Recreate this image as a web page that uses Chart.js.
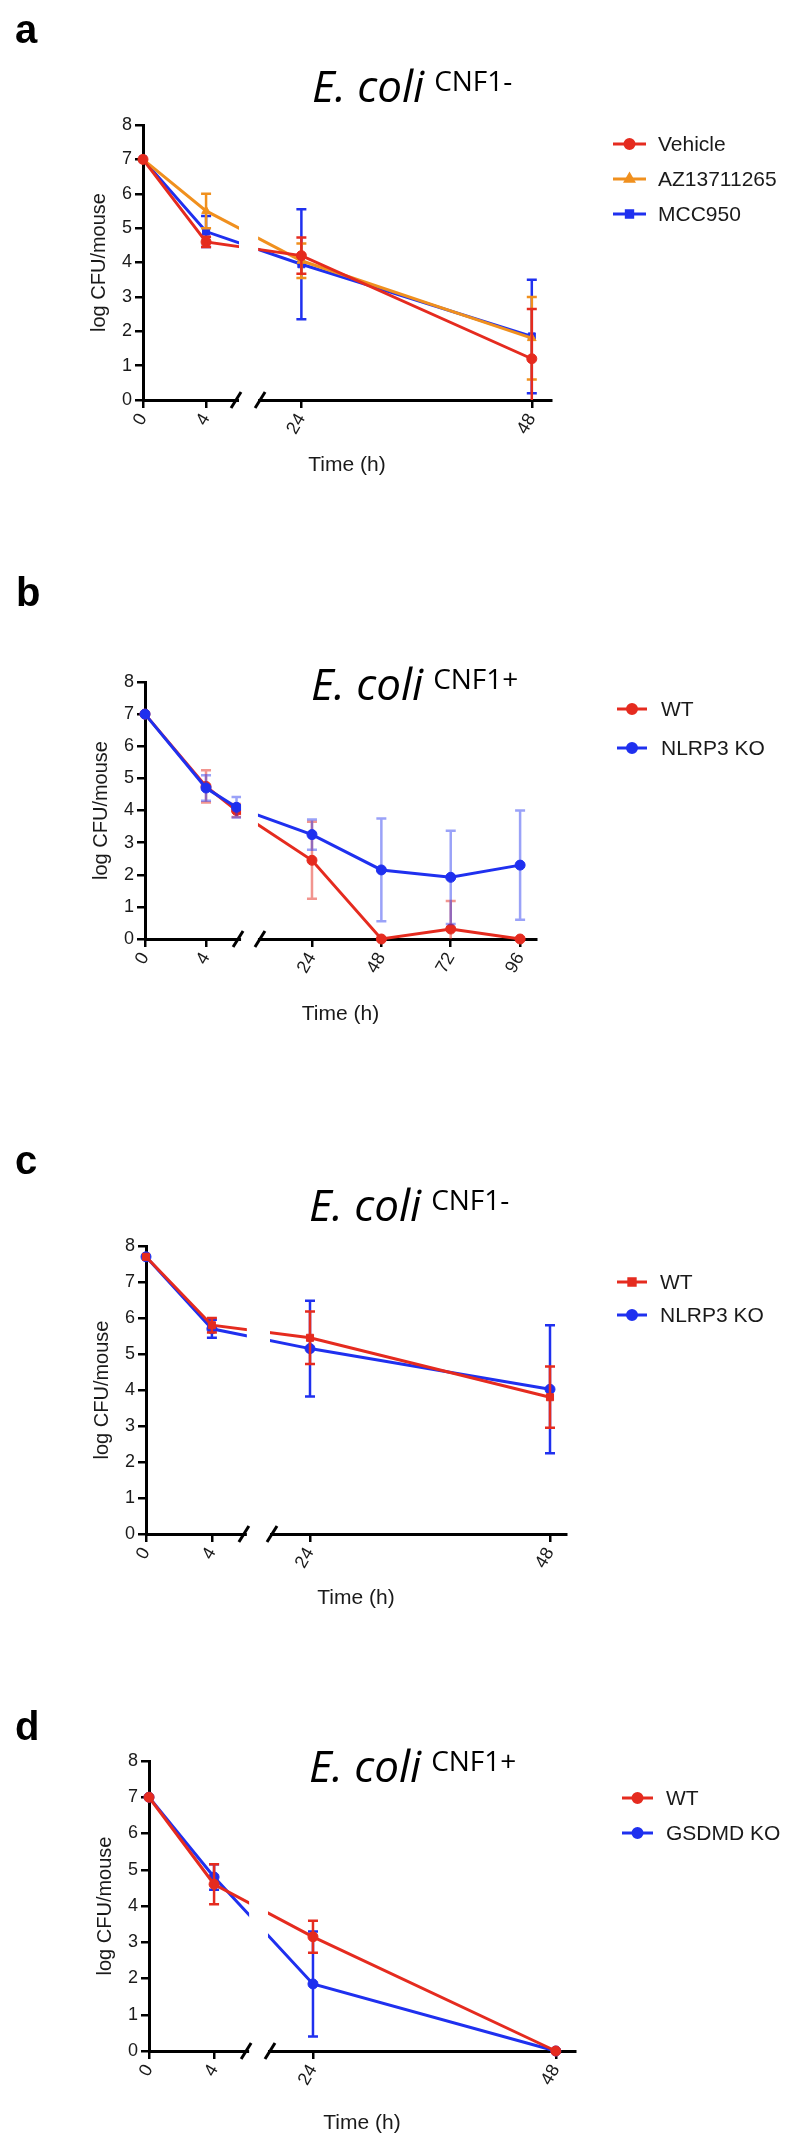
<!DOCTYPE html>
<html>
<head>
<meta charset="utf-8">
<script src="https://cdn.jsdelivr.net/npm/chart.js@4.4.1/dist/chart.umd.min.js"></script>
<style>
  body { margin: 0; background: #fff; }
  #page { position: relative; width: 800px; height: 2148px; overflow: hidden; background: #fff; }
  canvas { position: absolute; left: 0; }
  .letter { position: absolute; font: bold 40px "Liberation Sans", Arial, sans-serif; line-height: 40px; color: #000; }
  .ttl { position: absolute; font: italic 44px "Open Sans", sans-serif; line-height: 44px; color: #000; white-space: nowrap; }
  .ttl span { font-style: normal; font-size: 28px; position: relative; top: -11px; margin-left: 10px; }
</style>
</head>
<body>
<div id="page">
  <canvas id="cA" width="800" height="537" style="top:0px"></canvas>
  <canvas id="cB" width="800" height="537" style="top:537px"></canvas>
  <canvas id="cC" width="800" height="537" style="top:1074px"></canvas>
  <canvas id="cD" width="800" height="537" style="top:1611px"></canvas>

  <div class="letter" style="left:15px; top:9px">a</div>
  <div class="letter" style="left:16px; top:572px">b</div>
  <div class="letter" style="left:15px; top:1140px">c</div>
  <div class="letter" style="left:15px; top:1706px">d</div>

  <div class="ttl" style="left:312px; top:63px">E. coli<span>CNF1-</span></div>
  <div class="ttl" style="left:311px; top:661px">E. coli<span>CNF1+</span></div>
  <div class="ttl" style="left:309px; top:1182px">E. coli<span>CNF1-</span></div>
  <div class="ttl" style="left:309px; top:1743px">E. coli<span>CNF1+</span></div>
</div>
<script>
// ---- data (log CFU/mouse, mean and SD) ----
const timesA = [0, 4, 24, 48];
const vehicleA = [7.0, 4.6, 4.2, 1.2];
const vehicleErrA = [0, 0.15, 0.53, 1.45];
const azA = [7.0, 5.5, 4.05, 1.8];
const azErrA = [0, 0.5, 0.5, 1.2];
const mccA = [7.0, 4.9, 3.95, 1.85];
const mccErrA = [0, 0.45, 1.6, 1.65];

const timesB = [0, 4, 6, 24, 48, 72, 96];
const wtB = [7.0, 4.75, 4.0, 2.45, 0, 0.31, 0];
const wtErrB = [0, 0.5, 0.2, 1.2, 0, 0.87, 0];
const koB = [7.0, 4.7, 4.1, 3.25, 2.15, 1.92, 2.3];
const koErrB = [0, 0.4, 0.32, 0.47, 1.6, 1.45, 1.7];

const timesC = [0, 4, 24, 48];
const wtC = [7.7, 5.8, 5.45, 3.8];
const wtErrC = [0, 0.2, 0.73, 0.85];
const koC = [7.7, 5.7, 5.15, 4.02];
const koErrC = [0, 0.25, 1.33, 1.78];

const timesD = [0, 4, 24, 48];
const wtD = [7.0, 4.6, 3.15, 0];
const wtErrD = [0, 0.55, 0.44, 0];
const koD = [7.0, 4.8, 1.85, 0];
const koErrD = [0, 0.35, 1.45, 0];

const ticksA = [0, 4, 24, 48];
const ticksB = [0, 4, 24, 48, 72, 96];
const yTicks = [0, 1, 2, 3, 4, 5, 6, 7, 8];

const RED = '#e52b1f', ORANGE = '#f0901e', BLUE = '#1f30ef';
const FONT = '"Liberation Sans", Arial, sans-serif';

// x axis with a break: left segment and right segment share one scale
class BrokenScale extends Chart.LinearScale {
  toDecimal(v) {
    const b = this.options.brk;
    if (v <= b.leftEnd) return b.from * (v - this.min) / (b.leftEnd - this.min);
    return b.to + (1 - b.to) * (v - b.rightStart) / (this.max - b.rightStart);
  }
  getPixelForValue(value) {
    if (value === null || value === undefined) return NaN;
    return this.getPixelForDecimal(this.toDecimal(value));
  }
  getValueForPixel(pixel) {
    const b = this.options.brk;
    const d = this.getDecimalForPixel(pixel);
    if (d <= b.from) return this.min + d / b.from * (b.leftEnd - this.min);
    return b.rightStart + (d - b.to) / (1 - b.to) * (this.max - b.rightStart);
  }
}
BrokenScale.id = 'broken';
BrokenScale.defaults = {};
Chart.register(BrokenScale);

const errorBars = {
  id: 'errorBars',
  afterDatasetDraw(chart, args, opts) {
    const ds = chart.data.datasets[args.index];
    if (!ds.errors) return;
    const { ctx, chartArea } = chart;
    const ys = chart.scales.y;
    ctx.save();
    ctx.beginPath();
    ctx.rect(chartArea.left - 20, chartArea.top - 20, chartArea.width + 40, chartArea.height + 20);
    ctx.clip();
    ctx.strokeStyle = ds.barColor || ds.borderColor;
    ctx.lineWidth = opts.width;
    args.meta.data.forEach((pt, i) => {
      const e = ds.errors[i];
      if (!e) return;
      const v = ds.data[i].y;
      const hi = ys.getPixelForValue(v + e), lo = ys.getPixelForValue(v - e);
      ctx.beginPath();
      ctx.moveTo(pt.x, hi); ctx.lineTo(pt.x, lo);
      ctx.moveTo(pt.x - opts.cap, hi); ctx.lineTo(pt.x + opts.cap, hi);
      ctx.moveTo(pt.x - opts.cap, lo); ctx.lineTo(pt.x + opts.cap, lo);
      ctx.stroke();
    });
    ctx.restore();
  }
};

const axisBreak = {
  id: 'axisBreak',
  afterDatasetsDraw(chart) {
    const xs = chart.scales.x, b = xs.options.brk;
    const { ctx, chartArea } = chart;
    const x1 = xs.getPixelForDecimal(b.from), x2 = xs.getPixelForDecimal(b.to);
    ctx.save();
    ctx.fillStyle = '#fff';
    ctx.fillRect(x1 + 3, chartArea.top - 20, x2 - x1 - 5, chartArea.height + 22);
    ctx.strokeStyle = '#000';
    ctx.lineWidth = 3;
    [x1, x2].forEach(px => {
      ctx.beginPath();
      ctx.moveTo(px - 5, chartArea.bottom + 8);
      ctx.lineTo(px + 5, chartArea.bottom - 8);
      ctx.stroke();
    });
    ctx.restore();
  }
};

const sideLegend = {
  id: 'sideLegend',
  afterDraw(chart, args, opts) {
    const { ctx } = chart;
    chart.data.datasets.forEach((ds, i) => {
      const y = opts.y + i * opts.step;
      ctx.save();
      ctx.strokeStyle = ds.borderColor;
      ctx.fillStyle = ds.borderColor;
      ctx.lineWidth = 3;
      ctx.beginPath();
      ctx.moveTo(opts.x, y); ctx.lineTo(opts.x + opts.len, y);
      ctx.stroke();
      Chart.helpers.drawPoint(ctx, { pointStyle: ds.pointStyle, radius: 4.5, borderWidth: 1, rotation: 0 }, opts.x + opts.len / 2, y);
      ctx.fillStyle = '#1a1a1a';
      ctx.font = '21px ' + FONT;
      ctx.textBaseline = 'middle';
      ctx.fillText(ds.label, opts.textX, y + 1);
      ctx.restore();
    });
  }
};

function series(label, times, vals, errs, color, style, barColor, order) {
  return {
    label,
    data: times.map((t, i) => ({ x: t, y: vals[i] })),
    errors: errs,
    borderColor: color,
    backgroundColor: color,
    barColor: barColor || color,
    pointStyle: style,
    pointRadius: 5,
    pointBorderWidth: 1,
    borderWidth: 3,
    tension: 0,
    clip: false,
    order: order || 0
  };
}

const panels = [
  {
    canvas: 'cA', canvasTop: 0, canvasH: 537,
    area: { l: 143, r: 551, t: 125, b: 400 }, xTitleY: 465,
    ticks: ticksA,
    brk: { leftEnd: 5.9, rightStart: 19.7, max: 50, from: 0.228, to: 0.287 },
    legend: { x: 613, len: 33, textX: 658, y: 144, step: 35 },
    series: [
      series('Vehicle', timesA, vehicleA, vehicleErrA, RED, 'circle'),
      series('AZ13711265', timesA, azA, azErrA, ORANGE, 'triangle'),
      series('MCC950', timesA, mccA, mccErrA, BLUE, 'rect')
    ]
  },
  {
    canvas: 'cB', canvasTop: 537, canvasH: 537,
    area: { l: 145, r: 536, t: 682, b: 939 }, xTitleY: 1014,
    ticks: ticksB,
    brk: { leftEnd: 6.1, rightStart: 6.0, max: 101.5, from: 0.238, to: 0.294 },
    legend: { x: 617, len: 30, textX: 661, y: 172, step: 39 },
    series: [
      series('WT', timesB, wtB, wtErrB, RED, 'circle', 'rgba(229,43,31,0.5)', 2),
      series('NLRP3 KO', timesB, koB, koErrB, BLUE, 'circle', 'rgba(31,48,239,0.45)', 1)
    ]
  },
  {
    canvas: 'cC', canvasTop: 1074, canvasH: 537,
    area: { l: 146, r: 566, t: 1246, b: 1534 }, xTitleY: 1598,
    ticks: ticksA,
    brk: { leftEnd: 5.94, rightStart: 20.2, max: 49.6, from: 0.233, to: 0.300 },
    legend: { x: 617, len: 30, textX: 660, y: 208, step: 33 },
    series: [
      series('WT', timesC, wtC, wtErrC, RED, 'rect'),
      series('NLRP3 KO', timesC, koC, koErrC, BLUE, 'circle')
    ]
  },
  {
    canvas: 'cD', canvasTop: 1611, canvasH: 537,
    area: { l: 149, r: 575, t: 1761, b: 2051 }, xTitleY: 2123,
    ticks: ticksA,
    brk: { leftEnd: 5.97, rightStart: 19.75, max: 49.9, from: 0.228, to: 0.284 },
    legend: { x: 622, len: 31, textX: 666, y: 187, step: 35 },
    series: [
      series('WT', timesD, wtD, wtErrD, RED, 'circle'),
      series('GSDMD KO', timesD, koD, koErrD, BLUE, 'circle')
    ]
  }
];

const axisGrid = { display: true, drawOnChartArea: false, drawTicks: true, tickLength: 8, color: '#000', lineWidth: 2.5 };
const axisBorder = { display: true, color: '#000', width: 3 };

panels.forEach(p => {
  new Chart(document.getElementById(p.canvas), {
    type: 'line',
    data: { datasets: p.series },
    options: {
      responsive: false,
      animation: false,
      events: [],
      layout: {
        padding: {
          left: p.area.l - 60,
          right: 800 - p.area.r,
          top: p.area.t - p.canvasTop,
          bottom: p.canvasTop + p.canvasH - (p.xTitleY + 17)
        }
      },
      plugins: {
        legend: { display: false },
        tooltip: { enabled: false },
        sideLegend: p.legend,
        errorBars: { width: 2.5, cap: 5 }
      },
      scales: {
        x: {
          type: 'broken',
          bounds: 'data',
          min: 0,
          max: p.brk.max,
          brk: p.brk,
          afterFit: s => { s.height = p.xTitleY + 17 - p.area.b; },
          afterBuildTicks: s => { s.ticks = p.ticks.map(v => ({ value: v })); },
          ticks: { autoSkip: false, minRotation: 60, maxRotation: 60, padding: 2, color: '#1a1a1a', font: { family: FONT, size: 18 } },
          grid: axisGrid,
          border: axisBorder,
          title: { display: true, text: 'Time (h)', color: '#1a1a1a', font: { family: FONT, size: 21 }, padding: { top: 4, bottom: 4 } }
        },
        y: {
          min: 0,
          max: 8,
          afterFit: s => { s.width = 60; },
          afterBuildTicks: s => { s.ticks = yTicks.map(v => ({ value: v })); },
          ticks: { padding: 3, color: '#1a1a1a', font: { family: FONT, size: 18 } },
          grid: axisGrid,
          border: axisBorder,
          title: { display: true, text: 'log CFU/mouse', color: '#1a1a1a', font: { family: FONT, size: 20 }, padding: { top: 4, bottom: 4 } }
        }
      }
    },
    plugins: [errorBars, axisBreak, sideLegend]
  });
});
</script>
</body>
</html>
